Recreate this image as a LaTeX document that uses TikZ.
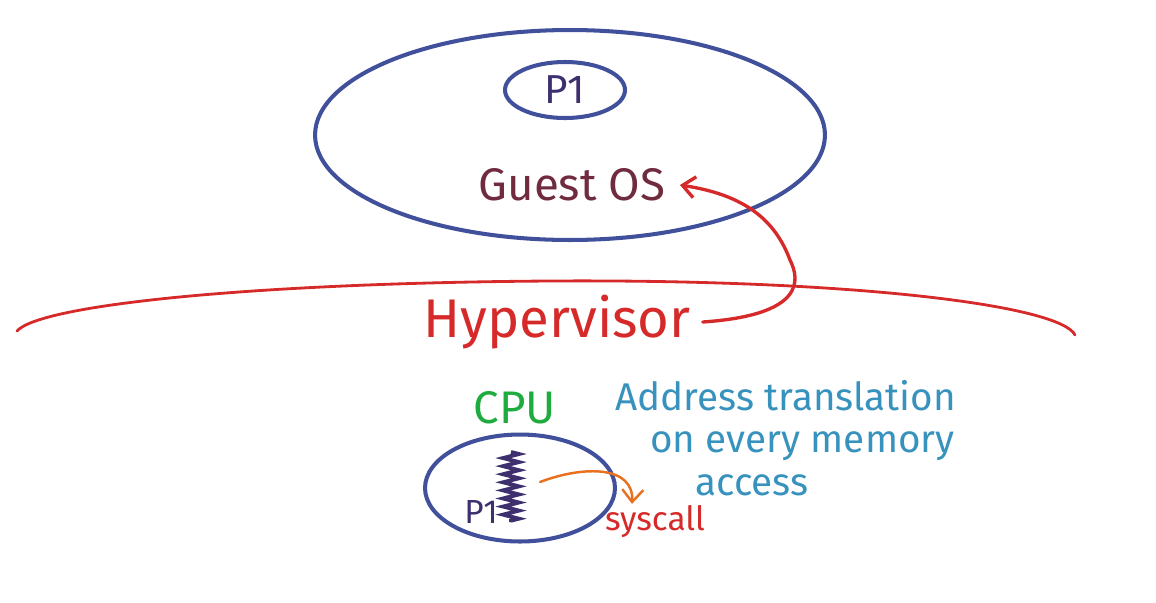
\documentclass[tikz,border=0pt]{standalone}
\usepackage{fontspec}
\setmainfont{Fira Sans}
\usetikzlibrary{arrows.meta, shapes.geometric, decorations.pathmorphing}

\definecolor{ovalblue}{RGB}{64,80,155}
\definecolor{inkpurple}{RGB}{62,48,110}
\definecolor{inkmaroon}{RGB}{112,44,62}
\definecolor{inkred}{RGB}{214,42,42}
\definecolor{inkgreen}{RGB}{30,172,62}
\definecolor{inkblue}{RGB}{56,146,190}
\definecolor{inkorange}{RGB}{232,112,30}

\begin{document}
\begin{tikzpicture}[x=0.02cm, y=-0.02cm, >={Straight Barb[length=7pt, width=12pt]},
      oval/.style={draw=ovalblue, ellipse, line width=2.3pt, inner sep=0pt},
      bigtxt/.style={font=\fontsize{31}{33}\selectfont, inner sep=1pt},
      midtxt/.style={font=\fontsize{26}{28}\selectfont, inner sep=1pt},
      smalltxt/.style={font=\fontsize{19}{22}\selectfont, inner sep=1pt},
      note/.style={font=\fontsize{22}{24}\selectfont, text=inkblue, anchor=base west, inner sep=0pt},
      pen/.style={line width=1.9pt, line cap=round}]

    \useasboundingbox (0,0) rectangle (1156,602);

    % ---- Guest side: VM with process ----
    \node[oval, minimum width=10.2cm, minimum height=4.2cm] (vm) at (570,135) {};
    \node[oval, font=\fontsize{23}{25}\selectfont, text=inkpurple, minimum width=2.4cm, minimum height=1.12cm] (proc) at (565,90) {P1};
    \node[midtxt, text=inkmaroon] (guest) at (572,185) {Guest OS};

    % ---- Hypervisor boundary ----
    \draw[pen, inkred, line width=1.6pt] (17,331) .. controls (40,305) and (250,283) .. (550,281)
          .. controls (850,279) and (1060,305) .. (1075,335);
    \node[bigtxt, text=inkred] (hyp) at (557,322) {Hypervisor};

    % trap back up to the guest kernel
    \draw[pen, inkred, ->] ([xshift=0.2cm]hyp.east) .. controls (805,315) and (800,280) .. (790,260)
          .. controls (775,220) and (745,195) .. ([xshift=0.25cm]guest.east);

    % ---- Physical CPU ----
    \node[midtxt, text=inkgreen] (cpu) at (515,408) {CPU};
    \node[oval, minimum width=3.8cm, minimum height=2.14cm] (core) at (520,488) {};
    \draw[inkpurple, line width=2.2pt, decorate,
          decoration={zigzag, segment length=4.6pt, amplitude=4.5pt}] (511,452) -- (511,522);
    \coordinate (run) at (540,482);
    \node[smalltxt, text=inkpurple] (p1) at (481,512) {P1};
    \node[smalltxt, text=inkred] (sys) at (655,522) {syscall};
    \draw[pen, inkorange, line width=1.4pt, ->] (run) .. controls (585,465) and (634,466) .. ([xshift=-0.46cm]sys.north);

    % ---- Note ----
    \node[note] (addr1) at (615,410) {Address translation};
    \node[note] (addr2) at (650,452) {on every memory};
    \node[note] (addr3) at (695,495) {access};

\end{tikzpicture}
\end{document}
